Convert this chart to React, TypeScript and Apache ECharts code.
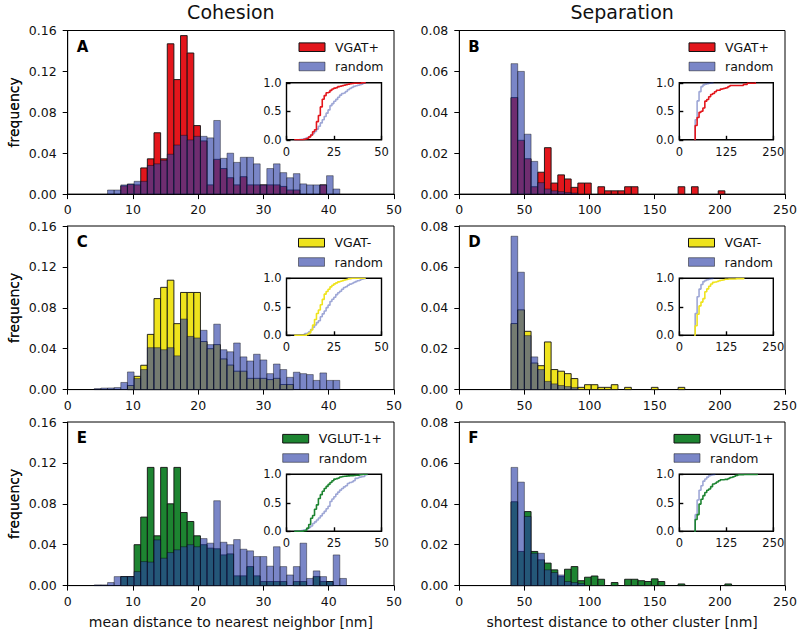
import React, { useEffect, useRef } from "react";
import * as echarts from "echarts";

// ---------------- Data ----------------
// Histogram bin grids (bin start, bin width)
const cohesionBinStart = 4.07;
const cohesionBinWidth = 1.017;
const separationBinStart = 39.7;
const separationBinWidth = 5.13;

// Tick labels
const cohesionXTicks = [0, 10, 20, 30, 40, 50];
const separationXTicks = [0, 50, 100, 150, 200, 250];
const cohesionYTicks = [0, 0.04, 0.08, 0.12, 0.16];
const separationYTicks = [0, 0.02, 0.04, 0.06, 0.08];
const insetCohesionXTicks = [0, 25, 50];
const insetSeparationXTicks = [0, 125, 250];
const insetYTicks = [0, 0.5, 1];

// Panel A: cohesion, VGAT+ vs random
const vgatPlusCohesion = [
  0, 0, 0, 0, 0.008, 0.0095, 0.009, 0.0256, 0.0345, 0.06,
  0.0345, 0.147, 0.112, 0.155, 0.138, 0.067, 0.052, 0.009, 0.034, 0.025,
  0.016, 0.009, 0.017, 0.009, 0.009, 0.009, 0.009, 0.009, 0.0075, 0.004,
  0.004, 0, 0, 0, 0.009, 0, 0,
];
const randomCohesionA = [
  0, 0, 0.004, 0.004, 0.009, 0.01, 0.0125, 0.0125, 0.028, 0.0296,
  0.033, 0.039, 0.048, 0.0575, 0.053, 0.0565, 0.0565, 0.055, 0.072, 0.035,
  0.04, 0.031, 0.036, 0.036, 0.0296, 0.009, 0.025, 0.0296, 0.021, 0.016,
  0.02, 0.01, 0.009, 0.009, 0.009, 0.018, 0.005,
];

// Panel C: cohesion, VGAT- vs random
const vgatMinusCohesion = [
  0, 0, 0, 0, 0, 0.004, 0.013, 0.0238, 0.054, 0.089,
  0.1, 0.107, 0.0645, 0.095, 0.095, 0.095, 0.047, 0.04, 0.044, 0.03,
  0.024, 0.018, 0.018, 0.011, 0.011, 0.011, 0.0098, 0.011, 0.005, 0.005,
  0, 0, 0, 0, 0, 0, 0,
];
const randomCohesionC = [
  0.001, 0.0015, 0.0016, 0.002, 0.007, 0.0173, 0.0108, 0.0196, 0.041, 0.041,
  0.039, 0.041, 0.033, 0.069, 0.052, 0.0505, 0.058, 0.044, 0.064, 0.039,
  0.037, 0.0456, 0.032, 0.028, 0.0346, 0.029, 0.0156, 0.025, 0.0196, 0.012,
  0.017, 0.0156, 0.0147, 0.009, 0.0163, 0.009, 0.009,
];

// Panel E: cohesion, VGLUT-1+ vs random
const vglutCohesion = [
  0, 0, 0, 0, 0.0088, 0.0088, 0.04, 0.067, 0.1156, 0.0487,
  0.1156, 0.08, 0.1156, 0.0715, 0.0627, 0.0487, 0.04, 0.0366, 0.036, 0.03,
  0.031, 0.0095, 0.0095, 0.0186, 0.0095, 0.004, 0.004, 0.004, 0.004, 0,
  0.004, 0.004, 0, 0.0088, 0.004, 0.004, 0, 0,
];
const randomCohesionE = [
  0.0007, 0.0007, 0.003, 0.0088, 0.0088, 0.0088, 0.0137, 0.0235, 0.023, 0.0447,
  0.0268, 0.0323, 0.035, 0.038, 0.04, 0.038, 0.046, 0.0415, 0.083, 0.0424,
  0.04, 0.045, 0.0356, 0.034, 0.0284, 0.0284, 0.019, 0.038, 0.0186, 0.0104,
  0.0186, 0.0415, 0.007, 0.0144, 0.0088, 0.004, 0.03, 0.007,
];

// Panel B: separation, VGAT+ vs random
const vgatPlusSeparation = [
  0.0472, 0.0263, 0.0173, 0.0036, 0.0107, 0.0227, 0.0054, 0.0094, 0.0074, 0.0033,
  0.0054, 0.0054, 0, 0.0036, 0.0016, 0.0016, 0.0016, 0.0036, 0.0036, 0,
  0, 0, 0, 0, 0, 0.0036, 0, 0.0036, 0, 0,
  0, 0.0016,
];
const randomSeparationB = [0.0638, 0.06, 0.0293, 0.016, 0.0056, 0.0025, 0.0016, 0.0012, 0.0008, 0.0005];

// Panel D: separation, VGAT- vs random
const vgatMinusSeparation = [
  0.0323, 0.039, 0.0285, 0.013, 0.0117, 0.0233, 0.0098, 0.009, 0.0078, 0.0054,
  0.0011, 0.0024, 0.0024, 0.0011, 0.0011, 0.0024, 0, 0.0011, 0, 0,
  0, 0.0011, 0, 0, 0, 0.0011,
];
const randomSeparationD = [0.075, 0.0574, 0.0264, 0.016, 0.0098, 0.004, 0.0028, 0.002, 0.0015, 0.001];

// Panel F: separation, VGLUT-1+ vs random
const vglutSeparation = [
  0.041, 0.0167, 0.0362, 0.0167, 0.0126, 0.011, 0.0077, 0.0044, 0.008, 0.0093,
  0.0024, 0.0041, 0.0047, 0.0031, 0, 0.0015, 0, 0.0031, 0.0031, 0.0024,
  0.002, 0.0033, 0.002, 0, 0, 0.0008, 0, 0, 0, 0,
  0, 0, 0.0008,
];
const randomSeparationF = [0.0578, 0.0506, 0.0338, 0.0158, 0.0158, 0.0077, 0.0064, 0.0052, 0.002, 0.0015, 0.001];

const columnTitles = ["Cohesion", "Separation"];
const xAxisTitles = ["mean distance to nearest neighbor [nm]", "shortest distance to other cluster [nm]"];
const yAxisTitle = "frequency";

// ---------------- Styles ----------------
const FONT = "DejaVu Sans";
const RED = "#e3161c";
const YELLOW = "#efe31d";
const GREEN = "#1d8431";
const RANDOM_FILL = "rgba(40,60,165,0.62)";
const RANDOM_EDGE = "rgba(0,0,0,0.45)";
const RANDOM_LINE = "rgba(40,60,165,0.45)";
const TEXT = "#111";

const COL_LEFT = [67.7, 459.3];
const COL_WIDTH = [326.3, 325.7];
const ROW_TOP = [30.5, 226, 422];
const PANEL_H = 163.6;
const INSET_LEFT = [286.5, 679.3];
const INSET_W = [95, 94];
const INSET_TOP_OFF = 52.3;
const INSET_H = 57;
const LEGEND_PATCH_LEFT: Record<string, number> = { A: 299, C: 298.5, E: 282.7, B: 689, D: 688.5, F: 674 };

type Panel = {
  letter: string; col: number; row: number; label: string; color: string;
  values: number[]; random: number[];
};

const panels: Panel[] = [
  { letter: "A", col: 0, row: 0, label: "VGAT+", color: RED, values: vgatPlusCohesion, random: randomCohesionA },
  { letter: "B", col: 1, row: 0, label: "VGAT+", color: RED, values: vgatPlusSeparation, random: randomSeparationB },
  { letter: "C", col: 0, row: 1, label: "VGAT-", color: YELLOW, values: vgatMinusCohesion, random: randomCohesionC },
  { letter: "D", col: 1, row: 1, label: "VGAT-", color: YELLOW, values: vgatMinusSeparation, random: randomSeparationD },
  { letter: "E", col: 0, row: 2, label: "VGLUT-1+", color: GREEN, values: vglutCohesion, random: randomCohesionE },
  { letter: "F", col: 1, row: 2, label: "VGLUT-1+", color: GREEN, values: vglutSeparation, random: randomSeparationF },
];

function binsOf(values: number[], start: number, width: number) {
  return values
    .map((v, i) => [start + i * width, start + (i + 1) * width, v])
    .filter((d) => d[2] > 0);
}

function cdfOf(values: number[], start: number, width: number) {
  const total = values.reduce((a, b) => a + b, 0);
  let c = 0;
  const pts: number[][] = [[start, 0]];
  values.forEach((v, i) => {
    c += v;
    pts.push([start + (i + 1) * width, c / total]);
  });
  return pts;
}

function barSeries(data: number[][], xi: number, fill: string, stroke: string, lw: number, z: number) {
  return {
    type: "custom",
    xAxisIndex: xi,
    yAxisIndex: xi,
    z,
    data,
    encode: { x: [0, 1], y: 2 },
    renderItem: (_p: any, api: any) => {
      const p0 = api.coord([api.value(0), api.value(2)]);
      const p1 = api.coord([api.value(1), 0]);
      return {
        type: "rect",
        shape: { x: p0[0], y: p0[1], width: p1[0] - p0[0], height: p1[1] - p0[1] },
        style: { fill, stroke, lineWidth: lw },
      };
    },
  };
}

function buildOption() {
  const grid: any[] = [];
  const xAxis: any[] = [];
  const yAxis: any[] = [];
  const series: any[] = [];
  const graphic: any[] = [];

  panels.forEach((p, idx) => {
    const left = p.col === 0;
    const xt = left ? cohesionXTicks : separationXTicks;
    const yt = left ? cohesionYTicks : separationYTicks;
    const start = left ? cohesionBinStart : separationBinStart;
    const width = left ? cohesionBinWidth : separationBinWidth;
    const gx = COL_LEFT[p.col];
    const gw = COL_WIDTH[p.col];
    const gy = ROW_TOP[p.row];

    grid.push({
      left: gx, top: gy, width: gw, height: PANEL_H, show: true,
      borderColor: "#000", borderWidth: 1, backgroundColor: "transparent",
    });
    xAxis.push({
      gridIndex: idx, type: "value", min: xt[0], max: xt[xt.length - 1], interval: xt[1] - xt[0],
      axisLine: { show: true, onZero: false, lineStyle: { color: "#000", width: 1 } },
      axisTick: { show: true, length: 5, lineStyle: { color: "#000", width: 1 } },
      splitLine: { show: false },
      axisLabel: { fontFamily: FONT, fontSize: 12.5, color: TEXT, margin: 9 },
    });
    yAxis.push({
      gridIndex: idx, type: "value", min: yt[0], max: yt[yt.length - 1], interval: yt[1] - yt[0],
      axisLine: { show: true, onZero: false, lineStyle: { color: "#000", width: 1 } },
      axisTick: { show: true, length: 5, lineStyle: { color: "#000", width: 1 } },
      splitLine: { show: false },
      axisLabel: { fontFamily: FONT, fontSize: 12.5, color: TEXT, margin: 11, formatter: (v: number) => v.toFixed(2) },
    });

    series.push(barSeries(binsOf(p.values, start, width), idx, p.color, "#111", 0.9, 2));
    series.push(barSeries(binsOf(p.random, start, width), idx, RANDOM_FILL, RANDOM_EDGE, 0.9, 3));

    // panel letter
    graphic.push({
      type: "text", x: gx + 9, y: gy + 16, z: 10,
      style: { text: p.letter, font: `bold 15px ${FONT}`, fill: "#000", textAlign: "left", textVerticalAlign: "middle" },
    });

    // legend
    const lx = LEGEND_PATCH_LEFT[p.letter];
    const rows = [
      { text: p.label, fill: p.color, stroke: "#111", y: gy + 16.7 },
      { text: "random", fill: RANDOM_FILL, stroke: RANDOM_EDGE, y: gy + 36 },
    ];
    rows.forEach((r) => {
      graphic.push({
        type: "rect", z: 10,
        shape: { x: lx, y: r.y - 4.3, width: 26, height: 8.6 },
        style: { fill: r.fill, stroke: r.stroke, lineWidth: 1 },
      });
      graphic.push({
        type: "text", x: lx + 36, y: r.y, z: 10,
        style: { text: r.text, font: `12.5px ${FONT}`, fill: TEXT, textAlign: "left", textVerticalAlign: "middle" },
      });
    });

    // y title
    graphic.push({
      type: "text", x: 14, y: gy + PANEL_H / 2, rotation: Math.PI / 2, z: 10,
      style: { text: yAxisTitle, font: `14px ${FONT}`, fill: TEXT, textAlign: "center", textVerticalAlign: "middle" },
    });
  });

  // insets
  panels.forEach((p, idx) => {
    const gi = 6 + idx;
    const left = p.col === 0;
    const xt = left ? insetCohesionXTicks : insetSeparationXTicks;
    const start = left ? cohesionBinStart : separationBinStart;
    const width = left ? cohesionBinWidth : separationBinWidth;
    grid.push({
      left: INSET_LEFT[p.col], top: ROW_TOP[p.row] + INSET_TOP_OFF, width: INSET_W[p.col], height: INSET_H,
      show: true, borderColor: "#000", borderWidth: 1.4, backgroundColor: "#fff", z: 5,
    });
    xAxis.push({
      gridIndex: gi, type: "value", min: xt[0], max: xt[xt.length - 1], interval: xt[1] - xt[0], z: 6,
      axisLine: { show: false },
      axisTick: { show: true, inside: true, length: 4, lineStyle: { color: "#000", width: 1.4 } },
      splitLine: { show: false },
      axisLabel: { fontFamily: FONT, fontSize: 11.5, color: TEXT, margin: 6 },
    });
    yAxis.push({
      gridIndex: gi, type: "value", min: insetYTicks[0], max: insetYTicks[insetYTicks.length - 1],
      interval: insetYTicks[1] - insetYTicks[0], z: 6,
      axisLine: { show: false },
      axisTick: { show: true, inside: true, length: 4, lineStyle: { color: "#000", width: 1.4 } },
      splitLine: { show: false },
      axisLabel: { fontFamily: FONT, fontSize: 11.5, color: TEXT, margin: 5, formatter: (v: number) => v.toFixed(1) },
    });
    series.push({
      type: "line", xAxisIndex: gi, yAxisIndex: gi, z: 7, step: "middle", symbol: "none",
      data: cdfOf(p.random, start, width), lineStyle: { color: RANDOM_LINE, width: 1.6 },
    });
    series.push({
      type: "line", xAxisIndex: gi, yAxisIndex: gi, z: 8, step: "middle", symbol: "none",
      data: cdfOf(p.values, start, width), lineStyle: { color: p.color, width: 1.6 },
    });
  });

  // column titles and x-axis titles
  [0, 1].forEach((c) => {
    const cx = COL_LEFT[c] + COL_WIDTH[c] / 2;
    graphic.push({
      type: "text", x: cx, y: 12, z: 10,
      style: { text: columnTitles[c], font: `19px ${FONT}`, fill: TEXT, textAlign: "center", textVerticalAlign: "middle" },
    });
    graphic.push({
      type: "text", x: cx, y: 622, z: 10,
      style: { text: xAxisTitles[c], font: `14px ${FONT}`, fill: TEXT, textAlign: "center", textVerticalAlign: "middle" },
    });
  });

  return { animation: false, backgroundColor: "#fff", grid, xAxis, yAxis, series, graphic };
}

export default function App() {
  const ref = useRef<HTMLDivElement>(null);
  useEffect(() => {
    if (!ref.current) return;
    const chart = echarts.init(ref.current, undefined, { renderer: "svg" });
    chart.setOption(buildOption() as any);
    return () => chart.dispose();
  }, []);
  return <div ref={ref} style={{ position: "fixed", left: 0, top: 0, width: 800, height: 634, background: "#fff" }} />;
}
